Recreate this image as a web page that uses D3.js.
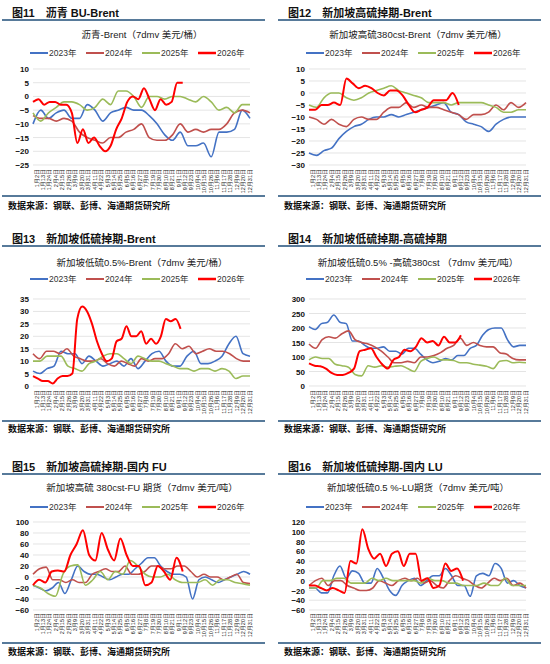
<!DOCTYPE html><html><head><meta charset="utf-8">
<script src="https://cdn.jsdelivr.net/npm/d3@7"></script>
<style>body{margin:0;background:#fff}svg{font-family:"Liberation Sans",Arial,"Noto Sans CJK SC",sans-serif}</style>
</head><body><svg id="c" width="550" height="664"></svg>
<script>
const seriesNames=["2023年","2024年","2025年","2026年"];
const colors=["#4472C4","#C0504D","#9BBB59","#FF0000"];
const dateTicks=["1月2日","1月13日","1月24日","2月4日","2月15日","2月26日","3月9日","3月20日","3月31日","4月11日","4月22日","5月3日","5月14日","5月25日","6月5日","6月16日","6月27日","7月8日","7月19日","7月30日","8月10日","8月21日","9月1日","9月12日","9月23日","10月4日","10月15日","10月26日","11月6日","11月17日","11月28日","12月9日","12月20日","12月31日"];
const figTitles=["图11　沥青 BU-Brent","图12　新加坡高硫掉期-Brent","图13　新加坡低硫掉期-Brent","图14　新加坡低硫掉期-高硫掉期","图15　新加坡高硫掉期-国内 FU","图16　新加坡低硫掉期-国内 LU"];
const chartTitles=["沥青-Brent（7dmv 美元/桶）","新加坡高硫380cst-Brent（7dmv 美元/桶）","新加坡低硫0.5%-Brent（7dmv 美元/桶）","新加坡低硫0.5% -高硫380cst （7dmv 美元/吨）","新加坡高硫 380cst-FU 期货（7dmv 美元/吨）","新加坡低硫0.5 %-LU期货（7dmv 美元/吨）"];
const yTicks=[[10,5,0,-5,-10,-15,-20,-25],[10,5,0,-5,-10,-15,-20,-25,-30],[35,30,25,20,15,10,5,0],[300,250,200,150,100,50,0],[100,80,60,40,20,0,-20,-40,-60],[120,100,80,60,40,20,0,-20,-40,-60]];
const redEnd=[0.69,0.69,0.68,0.70,0.69,0.71];
// panel 1
const p1_2023=[-10,-5,-8,-6,-5,-8,-8,-3,-5,-9,-6,-5,-4,-5,-5,-7,-10,-14,-16,-13,-18,-18,-17,-22,-13,-13,-12,-5,-8];
const p1_2024=[-7,-8,-8,-9,-8,-9,-13,-15,-16,-17,-15,-15,-13,-12,-10,-15,-16,-16,-14,-10,-13,-12,-13,-12,-12,-10,-6,-5,-6];
const p1_2025=[-6,-9,-6,-4,-2,-2,-3,-5,-4,-1,-3,2,2,0,-4,0,0,-1,0,0,-1,-2,0,-2,-5,-4,-6,-3,-3];
const p1_2026=[-2,-1,-3,-2,-2,-3,-3,-6,-17,-12,-17,-15,-18,-20,-18,-12,-8,-2,0,-1,3,-1,-5,-1,-3,-2,5,5];
// panel 2
const p2_2023=[-25,-26,-24,-23,-19,-16,-14,-13,-11,-10,-10,-9,-10,-9,-8,-7,-6,-5,-4,-8,-9,-12,-13,-14,-16,-13,-11,-10,-10,-10];
const p2_2024=[-10,-11,-13,-11,-13,-14,-11,-10,-11,-11,-8,-6,-6,-4,-6,-5,-6,-6,-7,-8,-9,-11,-9,-9,-8,-5,-7,-4,-6,-4];
const p2_2025=[-5,-6,-2,0,0,-2,-3,-2,0,1,2,3,1,0,-1,-2,-4,-4,-4,-5,-4,-4,-4,-4,-5,-6,-8,-8,-7,-7];
const p2_2026=[-7,-7,-5,-5,-4,-5,6,4,2,3,2,0,-1,1,1,-1,-5,-8,-7,-6,-3,-3,-3,0,-5];
// panel 3
const p3_2023=[6,5,7,8,14,13,13,9,12,10,8,9,10,8,11,7,10,13,14,10,8,8,12,14,9,9,10,12,17,20,13,12];
const p3_2024=[13,11,14,14,13,15,12,11,10,10,11,9,8,10,9,8,11,10,11,11,13,17,15,16,13,14,15,14,14,13,11,10,10];
const p3_2025=[10,10,12,12,12,8,7,6,9,10,12,13,13,11,9,12,11,10,10,9,8,7,7,6,7,7,6,7,6,3,4,4];
const p3_2026=[4,3,2,2,1,3,4,4,5,27,32,30,25,18,13,10,11,18,19,24,20,20,22,17,19,17,20,27,26,27,23];
// panel 4
const p4_2023=[205,195,215,220,245,220,215,155,155,140,130,130,135,120,120,110,130,130,110,90,80,85,95,90,105,105,130,140,175,195,200,200,160,135,140,140];
const p4_2024=[145,130,160,170,165,180,190,160,150,145,135,120,100,80,80,85,80,100,100,105,115,130,140,165,140,150,140,135,135,115,110,95,90,90];
const p4_2025=[90,100,95,95,75,70,65,40,35,70,65,70,65,68,70,60,50,85,95,100,90,90,88,80,80,75,72,68,60,85,88,80,82,80];
const p4_2026=[78,70,68,60,45,38,38,45,60,120,125,130,100,75,60,90,100,125,120,135,165,150,155,140,170,150,150,175];
// panel 5
const p5_2023=[-15,-20,-25,-20,-10,-30,-5,20,10,5,5,0,-5,0,5,5,15,25,35,35,20,10,5,5,0,-40,-5,0,-5,-10,-5,0,5,10,5];
const p5_2024=[5,15,18,-5,-5,-10,-5,-10,-10,5,10,15,10,10,20,5,5,10,20,20,15,15,20,20,10,0,5,0,0,-5,0,5,-10,-12];
const p5_2025=[-15,-20,-30,-35,5,20,22,-15,-5,10,-5,10,5,30,20,5,0,0,5,-5,-10,-10,-10,-5,-15,-5,-5,-10,-12,-15];
const p5_2026=[-15,-5,-10,10,12,10,40,60,85,40,30,80,50,30,70,40,20,20,-15,-10,20,10,-5,35,10];
// panel 6
const p6_2023=[-15,-15,-25,-25,10,30,5,20,15,-5,-5,25,5,-20,-30,-10,0,5,-10,0,10,10,25,10,-10,-10,-32,10,15,10,35,25,-5,0,-10,-15];
const p6_2024=[-10,0,5,-10,0,0,-10,-15,-20,-20,-15,0,-5,-10,0,5,0,5,-5,0,-10,-15,0,10,5,0,-10,-15,-5,5,0,5,-10,-5,-15];
const p6_2025=[-15,-15,0,0,5,5,-5,-5,-5,5,0,5,0,0,0,0,-5,5,0,0,-5,-5,-10,-10,-10,-5,-10,-10,5,-10,-10,-10];
const p6_2026=[-10,-10,-15,-20,-15,-20,-25,40,35,105,65,45,55,30,55,60,30,55,55,0,5,-15,-10,35,20,25,0];
const data=[[p1_2023,p1_2024,p1_2025,p1_2026],[p2_2023,p2_2024,p2_2025,p2_2026],[p3_2023,p3_2024,p3_2025,p3_2026],[p4_2023,p4_2024,p4_2025,p4_2026],[p5_2023,p5_2024,p5_2025,p5_2026],[p6_2023,p6_2024,p6_2025,p6_2026]];

const rows=[{t:13,rule:20,ct:38,lg:56,top:69,bot:165,lab:168,rule2:196,src:209},
            {t:239,rule:246,ct:266,lg:282,top:299,bot:386,lab:389,rule2:421,src:432},
            {t:467,rule:474,ct:491,lg:510,top:522,bot:610,lab:612,rule2:643,src:655}];
const svg=d3.select("#c");
data.forEach((ser,i)=>{
  const r=rows[Math.floor(i/2)], ox=i%2?276:0;
  const g=svg.append("g").attr("transform",`translate(${ox},0)`);
  const yt=yTicks[i];
  const x0=33,x1=250;
  g.append("text").attr("x",12).attr("y",r.t+4).attr("font-size",11).attr("font-weight","bold").attr("fill","#111").text(figTitles[i]);
  g.append("line").attr("x1",2).attr("x2",265).attr("y1",r.rule).attr("y2",r.rule).attr("stroke","#1F4E79").attr("stroke-width",1.5);
  g.append("text").attr("x",142).attr("y",r.ct).attr("text-anchor","middle").attr("font-size",9.5).attr("fill","#222").text(chartTitles[i]);
  seriesNames.forEach((n,k)=>{
    const lx=30+k*56;
    g.append("line").attr("x1",lx).attr("x2",lx+18).attr("y1",r.lg-3).attr("y2",r.lg-3).attr("stroke",colors[k]).attr("stroke-width",k==3?2.5:2);
    g.append("text").attr("x",lx+19).attr("y",r.lg).attr("font-size",8.5).attr("fill","#333").text(n);
  });
  const y=d3.scaleLinear().domain([d3.min(yt),d3.max(yt)]).range([r.bot,r.top]);
  const x=d3.scaleLinear().domain([0,1]).range([x0,x1]);
  g.append("g").selectAll("line").data(yt).join("line").attr("x1",x0).attr("x2",x1).attr("y1",d=>y(d)).attr("y2",d=>y(d)).attr("stroke","#d9d9d9").attr("stroke-width",0.7);
  const ya=g.append("g").attr("transform",`translate(${x0},0)`).call(d3.axisLeft(y).tickValues(yt).tickSize(0).tickPadding(4));
  ya.select(".domain").remove();
  ya.selectAll("text").attr("font-size",8).attr("font-weight","bold").attr("fill","#111").attr("font-family","Liberation Sans, Arial");
  const xb=d3.scalePoint().domain(dateTicks).range([x0+3,x1-1]);
  const xa=g.append("g").attr("transform",`translate(0,${r.lab})`).call(d3.axisBottom(xb).tickSize(0).tickPadding(0));
  xa.select(".domain").remove();
  xa.selectAll("text").attr("font-size",5.5).attr("fill","#222").attr("transform","rotate(-90)").attr("text-anchor","end").attr("dx","0").attr("dy","0").attr("x",-1).attr("y",2);
  ser.forEach((vals,k)=>{
    const end=k==3?redEnd[i]:1;
    const line=d3.line().x((d,j)=>x(j/(vals.length-1)*end)).y(d=>y(d)).curve(d3.curveMonotoneX);
    g.append("path").attr("d",line(vals)).attr("fill","none").attr("stroke",colors[k]).attr("stroke-width",k==3?2:1.6);
  });
  g.append("line").attr("x1",2).attr("x2",265).attr("y1",r.rule2).attr("y2",r.rule2).attr("stroke","#1F4E79").attr("stroke-width",1.5);
  g.append("text").attr("x",8).attr("y",r.src).attr("font-size",9).attr("font-weight","bold").attr("fill","#111").text("数据来源：钢联、彭博、海通期货研究所");
});
</script></body></html>
